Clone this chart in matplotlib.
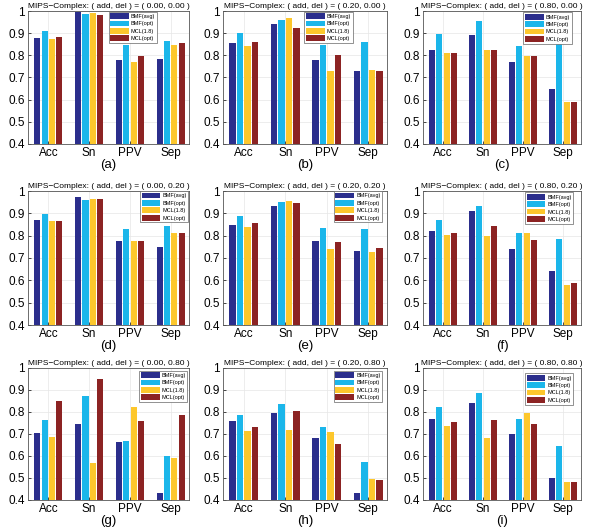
import matplotlib
matplotlib.use("Agg")
import matplotlib.pyplot as plt
import numpy as np

plt.rcParams['font.family'] = ['Liberation Sans', 'DejaVu Sans']

categories = ["Acc", "Sn", "PPV", "Sep"]
series_names = ["BMF(avg)", "BMF(opt)", "MCL(1.8)", "MCL(opt)"]
colors = ["#2b2e8c", "#1bb6ea", "#fdc72c", "#8c2323"]

titles = [
    "MIPS\u2212Complex: ( add, del ) = ( 0.00, 0.00 )",
    "MIPS\u2212Complex: ( add, del ) = ( 0.20, 0.00 )",
    "MIPS\u2212Complex: ( add, del ) = ( 0.80, 0.00 )",
    "MIPS\u2212Complex: ( add, del ) = ( 0.00, 0.20 )",
    "MIPS\u2212Complex: ( add, del ) = ( 0.20, 0.20 )",
    "MIPS\u2212Complex: ( add, del ) = ( 0.80, 0.20 )",
    "MIPS\u2212Complex: ( add, del ) = ( 0.00, 0.80 )",
    "MIPS\u2212Complex: ( add, del ) = ( 0.20, 0.80 )",
    "MIPS\u2212Complex: ( add, del ) = ( 0.80, 0.80 )",
]
panel_labels = ["(a)", "(b)", "(c)", "(d)", "(e)", "(f)", "(g)", "(h)", "(i)"]

# values[panel] = rows per category: [BMF(avg), BMF(opt), MCL(1.8), MCL(opt)]
panel_a = [[0.880, 0.910, 0.873, 0.882], [0.995, 0.985, 0.990, 0.980], [0.780, 0.845, 0.770, 0.795], [0.785, 0.865, 0.845, 0.855]]
panel_b = [[0.855, 0.900, 0.840, 0.860], [0.940, 0.960, 0.970, 0.925], [0.780, 0.845, 0.730, 0.800], [0.730, 0.860, 0.735, 0.728]]
panel_c = [[0.825, 0.895, 0.810, 0.810], [0.890, 0.955, 0.822, 0.822], [0.770, 0.840, 0.795, 0.795], [0.650, 0.850, 0.590, 0.590]]
panel_d = [[0.870, 0.895, 0.865, 0.865], [0.975, 0.960, 0.965, 0.965], [0.775, 0.830, 0.775, 0.775], [0.750, 0.842, 0.810, 0.810]]
panel_e = [[0.850, 0.890, 0.840, 0.855], [0.935, 0.950, 0.955, 0.948], [0.775, 0.835, 0.740, 0.770], [0.730, 0.830, 0.725, 0.745]]
panel_f = [[0.820, 0.870, 0.805, 0.810], [0.910, 0.935, 0.800, 0.845], [0.740, 0.810, 0.812, 0.782], [0.640, 0.785, 0.578, 0.588]]
panel_g = [[0.705, 0.765, 0.685, 0.850], [0.745, 0.875, 0.570, 0.950], [0.665, 0.670, 0.825, 0.760], [0.432, 0.598, 0.590, 0.785]]
panel_h = [[0.760, 0.785, 0.715, 0.730], [0.795, 0.838, 0.720, 0.805], [0.680, 0.733, 0.708, 0.655], [0.432, 0.573, 0.497, 0.490]]
panel_i = [[0.770, 0.825, 0.735, 0.755], [0.843, 0.885, 0.680, 0.765], [0.700, 0.770, 0.797, 0.745], [0.500, 0.645, 0.480, 0.483]]
panels = [panel_a, panel_b, panel_c, panel_d, panel_e, panel_f, panel_g, panel_h, panel_i]

# legend anchor (right, top) in axes fraction for each panel
legend_anchor = [(0.80, 0.995), (0.79, 0.995), (0.94, 0.99),
                 (0.995, 1.0), (0.97, 1.0), (0.95, 0.99),
                 (0.99, 0.98), (0.97, 0.98), (0.95, 0.96)]

W, H = 600, 529
fig = plt.figure(figsize=(6.0, 5.29), dpi=100)

col_left = [28, 223, 423]
col_width = [161, 164, 158]
row_top = [11, 191, 368]
row_height = [133, 134, 132]

x = np.arange(1, len(categories) + 1)
step = 0.18
bw = 0.15
offsets = (np.arange(4) - 1.5) * step

title_objs = []
for idx, vals in enumerate(panels):
    r, c = divmod(idx, 3)
    l = col_left[c] / W
    b = 1 - (row_top[r] + row_height[r]) / H
    ax = fig.add_axes([l, b, col_width[c] / W, row_height[r] / H])
    arr = np.array(vals)
    for s in range(4):
        ax.bar(x + offsets[s], arr[:, s], width=bw, color=colors[s],
               edgecolor="none", label=series_names[s], zorder=3)
    ax.set_ylim(0.4, 1.0)
    ax.set_xlim(0.5, 4.45)
    ax.set_xticks(x)
    ax.set_xticklabels(categories, fontsize=8.5)
    ax.set_yticks([0.4, 0.5, 0.6, 0.7, 0.8, 0.9, 1.0])
    ax.set_yticklabels(["0.4", "0.5", "0.6", "0.7", "0.8", "0.9", "1"], fontsize=8.5)
    ax.tick_params(direction="in", length=2, width=0.5, pad=2.5)
    ax.grid(True, color="#e6e6e6", linewidth=0.5, zorder=0)
    for sp in ax.spines.values():
        sp.set_linewidth(0.6)
        sp.set_color("#555555")
    t = ax.set_title(titles[idx], fontsize=8, pad=2.5)
    title_objs.append(t)
    ax.text(0.5, -0.11, panel_labels[idx], transform=ax.transAxes,
            ha="center", va="top", fontsize=9.5)
    leg = ax.legend(loc="upper right", bbox_to_anchor=legend_anchor[idx],
                    fontsize=4.0, frameon=True, fancybox=False, framealpha=1,
                    borderpad=0.3, labelspacing=0.3, handlelength=3.4,
                    handleheight=1.2, handletextpad=0.3, borderaxespad=0.0)
    leg.get_frame().set_linewidth(0.5)
    leg.get_frame().set_edgecolor("#666666")
    leg.set_zorder(5)

# shrink titles to fit a target width
fig.canvas.draw()
renderer = fig.canvas.get_renderer()
target_w = 160
for t in title_objs:
    w = t.get_window_extent(renderer).width
    if w > target_w:
        t.set_fontsize(8 * target_w / w)

fig.savefig("out.png", dpi=100)
